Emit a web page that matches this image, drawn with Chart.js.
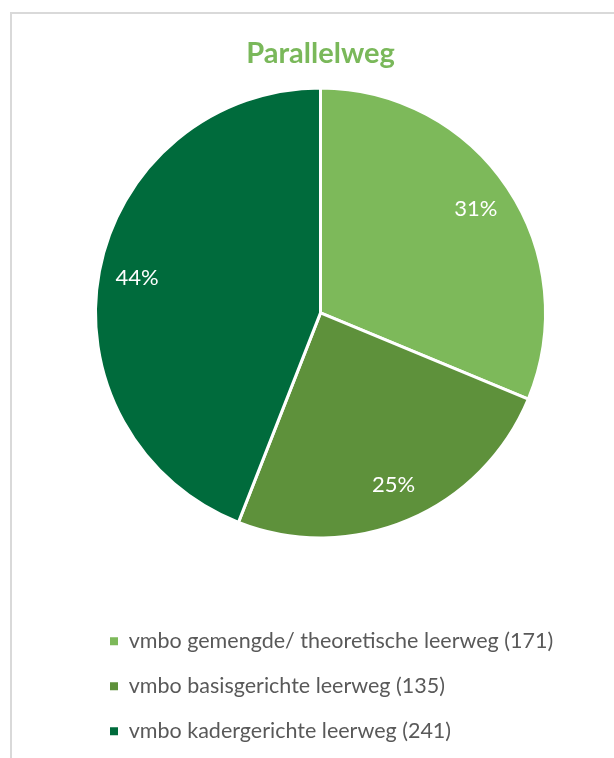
<!DOCTYPE html>
<html>
<head>
<meta charset="utf-8">
<script src="https://cdn.jsdelivr.net/npm/chart.js@4.4.1/dist/chart.umd.min.js"></script>
<style>
    html, body { margin: 0; padding: 0; background: #fff; overflow: hidden; }
    #frame {
        position: absolute;
        left: 10px;
        top: 12px;
        width: 602px;
        height: 744px;
        border-left: 2px solid #d9d9d9;
        border-top: 2px solid #d9d9d9;
    }
    #frame canvas { display: block; }
</style>
</head>
<body>
<div id="frame"><canvas id="pie-chart" width="602" height="744"></canvas></div>
<script>
// Data
const categories = [
    'vmbo gemengde/ theoretische leerweg (171)',
    'vmbo basisgerichte leerweg (135)',
    'vmbo kadergerichte leerweg (241)'
];
const counts = [171, 135, 241];
const sliceColors = ['#7db95a', '#5e913b', '#006b3c'];

const FONT = 'Lato, "Open Sans", sans-serif';

// Draw the percentage labels inside each slice
const sliceLabels = {
    id: 'sliceLabels',
    afterDatasetsDraw(chart) {
        const ctx = chart.ctx;
        const meta = chart.getDatasetMeta(0);
        const total = counts.reduce((a, b) => a + b, 0);
        ctx.save();
        ctx.fillStyle = '#ffffff';
        ctx.font = '22px ' + FONT;
        ctx.textAlign = 'center';
        ctx.textBaseline = 'middle';
        meta.data.forEach((arc, i) => {
            const p = arc.getProps(['x', 'y', 'startAngle', 'endAngle', 'outerRadius'], true);
            const mid = (p.startAngle + p.endAngle) / 2;
            const r = p.outerRadius * 0.83;
            const pct = Math.round(counts[i] / total * 100) + '%';
            ctx.fillText(pct, p.x + Math.cos(mid) * r, p.y + Math.sin(mid) * r);
        });
        ctx.restore();
    }
};

new Chart(document.getElementById('pie-chart').getContext('2d'), {
    type: 'pie',
    data: {
        labels: categories,
        datasets: [{
            data: counts,
            backgroundColor: sliceColors,
            borderColor: '#ffffff',
            borderWidth: 3,
            radius: 225
        }]
    },
    options: {
        responsive: false,
        animation: false,
        layout: {
            padding: { left: 74.5, right: 59.5, top: 0, bottom: 6 }
        },
        plugins: {
            title: {
                display: true,
                text: 'Parallelweg',
                color: '#7ab85a',
                font: { family: FONT, size: 29, weight: 'bold' },
                padding: { top: 22, bottom: 8 }
            },
            legend: {
                display: true,
                position: 'bottom',
                align: 'start',
                title: {
                    display: true,
                    text: ' ',
                    font: { size: 10 },
                    padding: { top: 48, bottom: 0 }
                },
                labels: {
                    color: '#595959',
                    font: { family: FONT, size: 21.5 },
                    boxWidth: 8,
                    boxHeight: 8,
                    padding: 23.5,
                    generateLabels(chart) {
                        const items = Chart.overrides.pie.plugins.legend.labels.generateLabels(chart);
                        return items.map(item => ({ ...item, lineWidth: 0, strokeStyle: 'rgba(0,0,0,0)' }));
                    }
                }
            },
            tooltip: { enabled: false }
        }
    },
    plugins: [sliceLabels]
});
</script>
</body>
</html>
